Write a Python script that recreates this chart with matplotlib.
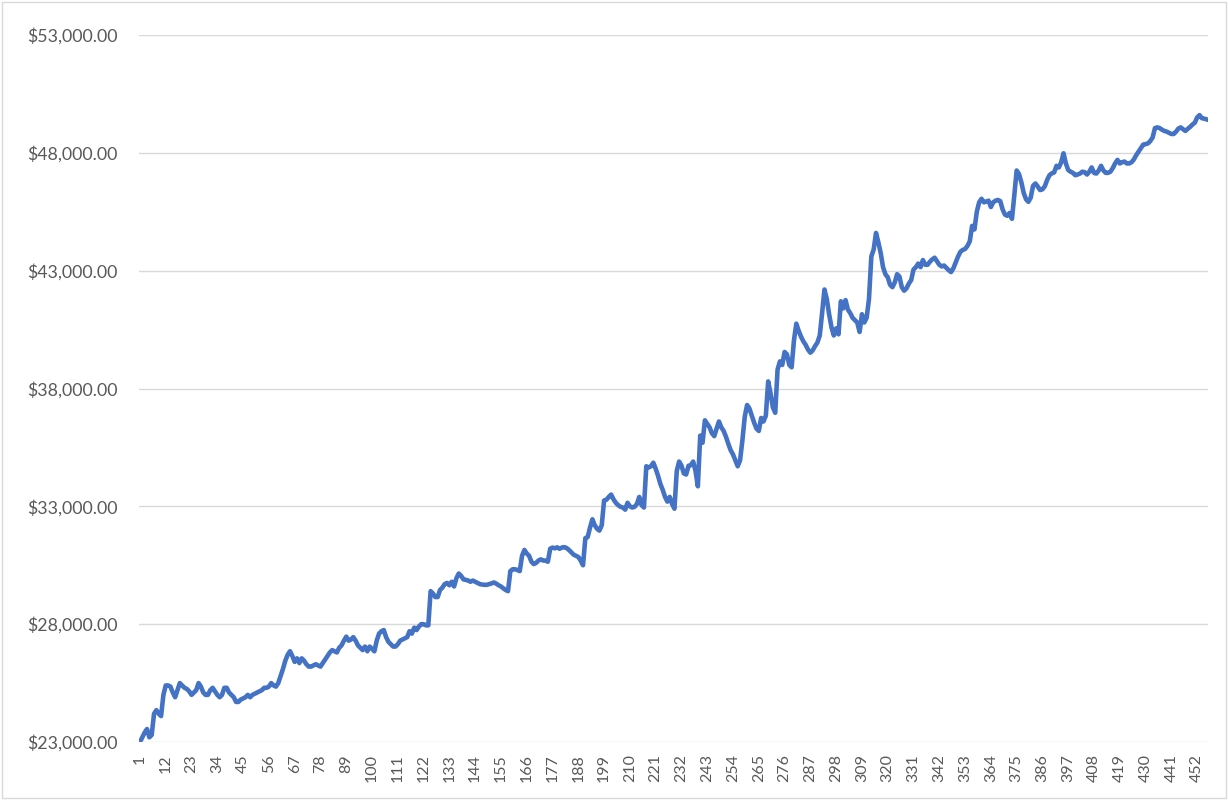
import matplotlib
matplotlib.use("Agg")
import matplotlib.pyplot as plt
import numpy as np
from matplotlib.patches import Rectangle
from matplotlib.ticker import FuncFormatter

plt.rcParams["font.family"] = ["Lato", "DejaVu Sans"]

# Balance per period (USD)
balance = [
    23000, 23200, 23400, 23550, 23200, 23300, 24200, 24350, 24200, 24100,
    25000, 25400, 25400, 25350, 25100, 24900, 25200, 25500, 25400, 25300,
    25250, 25150, 25000, 25100, 25200, 25500, 25350, 25100, 25000, 25000,
    25200, 25300, 25150, 25000, 24900, 25000, 25300, 25300, 25100, 25000,
    24900, 24700, 24700, 24800, 24850, 24900, 25000, 24900, 25000, 25050,
    25100, 25150, 25200, 25300, 25300, 25350, 25500, 25400, 25350, 25500,
    25800, 26100, 26450, 26700, 26850, 26650, 26400, 26550, 26350, 26550,
    26450, 26300, 26200, 26200, 26250, 26300, 26250, 26200, 26350, 26500,
    26650, 26800, 26900, 26850, 26800, 27000, 27100, 27300, 27470, 27300,
    27350, 27450, 27300, 27100, 27000, 26900, 27050, 26850, 27050, 26950,
    26850, 27300, 27600, 27700, 27750, 27450, 27250, 27150, 27050, 27050,
    27150, 27300, 27350, 27400, 27450, 27700, 27600, 27850, 27750, 27900,
    28000, 28000, 27950, 27950, 29400, 29300, 29150, 29150, 29450, 29550,
    29700, 29750, 29650, 29800, 29600, 29950, 30150, 30050, 29900, 29880,
    29850, 29800, 29850, 29800, 29750, 29700, 29680, 29670, 29670, 29700,
    29730, 29770, 29720, 29650, 29600, 29520, 29450, 29400, 30250, 30330,
    30330, 30300, 30250, 30900, 31150, 31000, 30900, 30650, 30550, 30600,
    30700, 30750, 30700, 30700, 30650, 31200, 31250, 31220, 31260, 31200,
    31250, 31270, 31230, 31150, 31050, 30950, 30900, 30850, 30700, 30500,
    31650, 31700, 32100, 32450, 32200, 32050, 31970, 32200, 33250, 33280,
    33400, 33500, 33300, 33150, 33050, 32980, 32950, 32860, 33150, 33000,
    32950, 32980, 33100, 33400, 33050, 32950, 34700, 34650, 34700, 34850,
    34600, 34300, 33950, 33700, 33400, 33200, 33400, 33100, 32900, 34500,
    34900, 34730, 34400, 34350, 34720, 34750, 34900, 34500, 33850, 36000,
    35700, 36650, 36500, 36350, 36100, 35980, 36300, 36600, 36350, 36200,
    35950, 35650, 35380, 35200, 34950, 34700, 34950, 35800, 36800, 37300,
    37150, 36850, 36550, 36300, 36200, 36750, 36600, 36850, 38300, 37800,
    37200, 36970, 38800, 39150, 39000, 39550, 39450, 39000, 38900, 40050,
    40750, 40450, 40200, 40000, 39850, 39650, 39520, 39620, 39800, 39950,
    40250, 41200, 42200, 41800, 41150, 40600, 40250, 40550, 40300, 41700,
    41400, 41750, 41350, 41200, 41000, 40900, 40800, 40400, 41150, 40800,
    41000, 41800, 43600, 43900, 44600, 44200, 43750, 43150, 42850, 42720,
    42400, 42300, 42500, 42850, 42750, 42300, 42150, 42250, 42450, 42600,
    43050, 43150, 43300, 43150, 43450, 43250, 43250, 43380, 43480, 43550,
    43400, 43250, 43180, 43220, 43120, 43020, 42940, 43100, 43350, 43600,
    43800, 43880, 43920, 44050, 44250, 44900, 44750, 45500, 45900, 46050,
    45900, 45930, 45970, 45700, 45900, 45970, 46000, 45950, 45600, 45380,
    45330, 45450, 45200, 46200, 47250, 47100, 46750, 46300, 46030, 45920,
    46100, 46600, 46700, 46570, 46420, 46450, 46580, 46850, 47050, 47130,
    47170, 47450, 47380, 47600, 47980, 47550, 47270, 47200, 47150, 47050,
    47080, 47120, 47200, 47180, 47080, 47200, 47380, 47150, 47120, 47250,
    47450, 47250, 47150, 47150, 47200, 47350, 47550, 47700, 47550, 47600,
    47630, 47550, 47550, 47600, 47720, 47900, 48050, 48200, 48350, 48370,
    48400, 48500, 48650, 49050, 49080, 49050, 48980, 48930, 48900, 48850,
    48800, 48800, 48900, 49030, 49080, 49000, 48930, 49020, 49100, 49200,
    49280, 49500, 49600, 49470, 49450, 49420,
]
periods = list(range(1, len(balance) + 1))
x_labels = periods[::11]
y_ticks = [23000, 28000, 33000, 38000, 43000, 48000, 53000]

LINE = "#4472C4"
GRID = "#D9D9D9"
TEXT = "#595959"

fig = plt.figure(figsize=(12.28, 8.0), dpi=100)
ax = fig.add_axes([138.8 / 1228, 1 - 742 / 800, (1207.7 - 138.8) / 1228, (742 - 35) / 800])

ax.plot(periods, balance, color=LINE, linewidth=3.3, solid_joinstyle="round", zorder=3)

ax.set_xlim(0.5, len(periods) + 0.5)
ax.set_ylim(y_ticks[0], y_ticks[-1])
ax.set_yticks(y_ticks)
ax.yaxis.set_major_formatter(FuncFormatter(lambda v, _: f"${v:,.2f}"))
ax.set_xticks(x_labels)
ax.set_xticklabels([str(p) for p in x_labels], rotation=90, ha="center", va="top")

ax.grid(axis="y", color=GRID, linewidth=1.0, zorder=0)
ax.set_axisbelow(True)
for s in ax.spines.values():
    s.set_visible(False)
ax.tick_params(axis="y", length=0, pad=15, labelsize=12.8, labelcolor=TEXT)
ax.tick_params(axis="x", length=0, pad=9, labelsize=11.5, labelcolor=TEXT)

# Excel-style chart border
fig.patches.append(Rectangle((0.002, 0.003), 0.996, 0.994, transform=fig.transFigure,
                             fill=False, edgecolor=GRID, linewidth=1.0))

fig.savefig("out.png", dpi=100)
